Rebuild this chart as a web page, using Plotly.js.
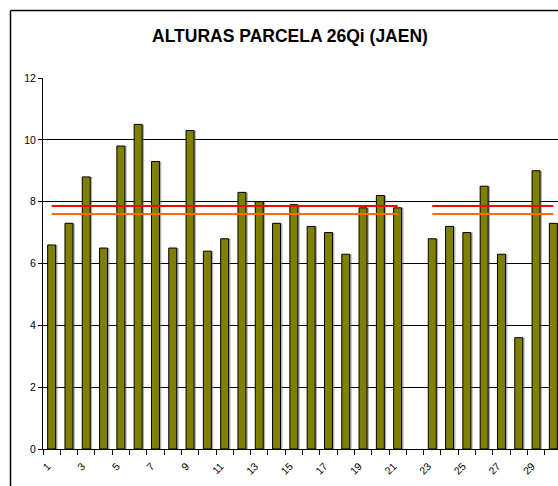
<!DOCTYPE html>
<html>
<head>
<meta charset="utf-8">
<script src="https://cdn.plot.ly/plotly-3.0.1.min.js"></script>
<style>html,body{margin:0;padding:0;background:#fff;}#chart{width:558px;height:486px;}</style>
</head>
<body>
<div id="chart"></div>
<script>
// Data
var categories = [1,2,3,4,5,6,7,8,9,10,11,12,13,14,15,16,17,18,19,20,21,22,23,24,25,26,27,28,29,30];
var alturas = [6.6,7.3,8.8,6.5,9.8,10.5,9.3,6.5,10.3,6.4,6.8,8.3,8.0,7.3,7.9,7.2,7.0,6.3,7.8,8.2,7.8,null,6.8,7.2,7.0,8.5,6.3,3.6,9.0,7.3];
var lineaRoja = [7.86,7.86,7.86,7.86,7.86,7.86,7.86,7.86,7.86,7.86,7.86,7.86,7.86,7.86,7.86,7.86,7.86,7.86,7.86,7.86,7.86,null,7.86,7.86,7.86,7.86,7.86,7.86,7.86,7.86];
var lineaNaranja = [7.6,7.6,7.6,7.6,7.6,7.6,7.6,7.6,7.6,7.6,7.6,7.6,7.6,7.6,7.6,7.6,7.6,7.6,7.6,7.6,7.6,null,7.6,7.6,7.6,7.6,7.6,7.6,7.6,7.6];
var tickLabels = ['1','3','5','7','9','11','13','15','17','19','21','23','25','27','29'];
var tickLabelVals = [1,3,5,7,9,11,13,15,17,19,21,23,25,27,29];

var font = 'Liberation Sans, Arial, sans-serif';
var boundaries = categories.map(function(c){return c - 0.5;}).concat([categories[categories.length-1] + 0.5]);

var traces = [
  {type:'bar', x:categories, y:alturas, width:0.46, offset:-0.23+0.11,
   marker:{color:'rgba(110,110,110,0.55)', line:{width:0}}, hoverinfo:'skip', showlegend:false},
  {type:'bar', x:categories, y:alturas, width:0.46, offset:-0.23,
   marker:{color:'#808000', line:{color:'#000000', width:1}}, showlegend:false},
  {type:'scatter', mode:'lines', x:categories, y:lineaRoja, connectgaps:false,
   line:{color:'#ff0000', width:2}, showlegend:false},
  {type:'scatter', mode:'lines', x:categories, y:lineaNaranja, connectgaps:false,
   line:{color:'#ff6a10', width:2}, showlegend:false},
  {type:'scatter', mode:'markers', x:[1], y:[null], xaxis:'x2', showlegend:false, hoverinfo:'skip'}
];

var L = 43, T = 78, B = 37, W = 558, H = 486;
var pw = W - L, ph = H - T - B;

var layout = {
  width:W, height:H,
  margin:{l:L, r:0, t:T, b:B, pad:0},
  paper_bgcolor:'#ffffff', plot_bgcolor:'#ffffff',
  barmode:'overlay',
  showlegend:false,
  font:{family:font, size:10, color:'#000'},
  title:{text:'<b>ALTURAS PARCELA 26Qi (JAEN)</b>', font:{family:font, size:17.5, color:'#000'},
         x:290/W, xref:'container', xanchor:'center', y:1-36/H, yref:'container', yanchor:'middle'},
  xaxis:{range:[0.5, 0.5 + (W - L)/17.3], tickmode:'array', tickvals:boundaries, showticklabels:false,
         ticks:'outside', ticklen:5, tickcolor:'#000', tickwidth:1,
         showline:true, linecolor:'#000', linewidth:1, showgrid:false, zeroline:false, fixedrange:true},
  xaxis2:{overlaying:'x', matches:'x', side:'bottom', tickmode:'array', tickvals:tickLabelVals, ticktext:tickLabels,
          tickangle:-45, ticks:'outside', ticklen:6, tickcolor:'rgba(0,0,0,0)', showline:false, showgrid:false, zeroline:false,
          ticklabelshift:-4,
          tickfont:{family:font, size:10.5, color:'#000'}},
  yaxis:{range:[0,12], dtick:2, tick0:0, ticks:'outside', ticklen:4, tickcolor:'#000',
         showline:true, linecolor:'#000', linewidth:1, showgrid:true, gridcolor:'#000', gridwidth:1,
         zeroline:false, tickfont:{family:font, size:10.5, color:'#000'}},
  shapes:[
    {type:'line', xref:'paper', yref:'paper', x0:(10.5-L)/pw, x1:(10.5-L)/pw, y0:-(B+5)/ph, y1:1+(T-10.5)/ph,
     line:{color:'#000', width:1.5}},
    {type:'line', xref:'paper', yref:'paper', x0:(10.5-L)/pw, x1:1.05, y0:1+(T-10.5)/ph, y1:1+(T-10.5)/ph,
     line:{color:'#000', width:1.5}}
  ]
};

Plotly.newPlot('chart', traces, layout, {staticPlot:true, displayModeBar:false});
</script>
</body>
</html>
